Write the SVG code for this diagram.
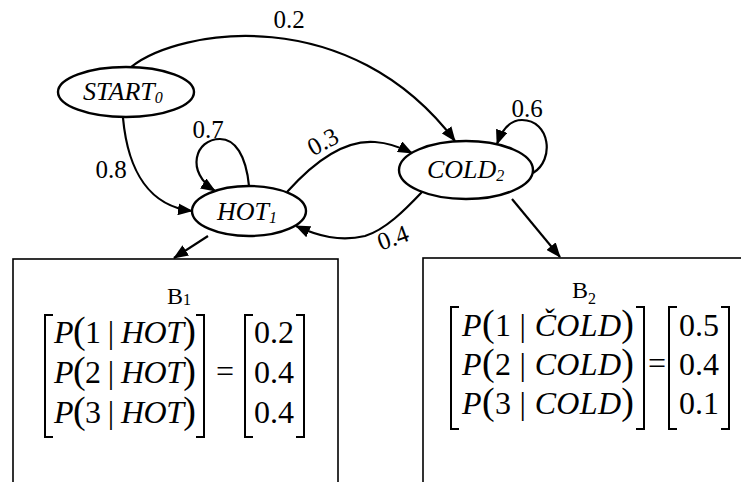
<svg xmlns="http://www.w3.org/2000/svg" width="741" height="482" viewBox="0 0 741 482">
<style>
  .bg { fill: #ffffff; }
  .node { fill: #ffffff; stroke: #000000; stroke-width: 2.4; }
  .box { fill: #ffffff; stroke: #000000; stroke-width: 1.6; }
  .edge { fill: none; stroke: #000000; stroke-width: 2.2; marker-end: url(#arrow); }
  .brk { fill: none; stroke: #000000; stroke-width: 2; }
  text { font-family: 'Liberation Serif', 'DejaVu Serif', serif; fill: #000000; }
  .lbl { font-size: 25px; }
  .name { font-size: 26px; font-style: italic; }
  .sub { font-size: 16px; }
  .mat { font-size: 32px; }
  .it { font-style: italic; }
  .par { font-size: 38px; }
  .bl { font-size: 24px; }
</style>
<defs>
  <marker id="arrow" markerUnits="userSpaceOnUse" markerWidth="16" markerHeight="12" refX="14" refY="6" orient="auto">
    <path d="M0,0 L15,6 L0,12 Z" fill="#000000"/>
  </marker>
</defs>
<rect class="bg" x="0" y="0" width="741" height="482"/>

<g id="connectors">
  <path id="e-start-cold" class="edge" d="M131,67 C180,28 350,2 455,141"/>
  <path id="e-start-hot" class="edge" d="M123,118 C128,172 150,206 192,211"/>
  <path id="e-hot-hot" class="edge" d="M249,186 C246,155 235,139 220,139 C195,139 185,172 215,191"/>
  <path id="e-hot-cold" class="edge" d="M287,192 C320,155 350,140 375,142 C390,143 400,147 412,153"/>
  <path id="e-cold-cold" class="edge" d="M533,173 C555,160 550,120 522,120 C510,120 502,130 497,144"/>
  <path id="e-cold-hot" class="edge" d="M422,192 C405,210 385,230 365,236 C340,242 318,236 296,226"/>
  <path id="e-hot-b1" class="edge" d="M208,236 L174,258"/>
  <path id="e-cold-b2" class="edge" d="M512,199 L560,257"/>
  <text class="lbl" x="289" y="28" text-anchor="middle">0.2</text>
  <text class="lbl" x="111" y="178" text-anchor="middle">0.8</text>
  <text class="lbl" x="208" y="138" text-anchor="middle">0.7</text>
  <text class="lbl" x="323" y="150" text-anchor="middle" transform="rotate(-28 323 142)">0.3</text>
  <text class="lbl" x="527" y="117" text-anchor="middle">0.6</text>
  <text class="lbl" x="393" y="246" text-anchor="middle" transform="rotate(-20 393 238)">0.4</text>
</g>

<g id="node-start">
  <ellipse class="node" cx="126" cy="92" rx="68" ry="25"/>
  <text class="name" x="83" y="100">START<tspan class="sub" dy="3">0</tspan></text>
</g>

<g id="node-hot">
  <ellipse class="node" cx="249" cy="211" rx="57" ry="25"/>
  <text class="name" x="217" y="220">HOT<tspan class="sub" dy="3">1</tspan></text>
</g>

<g id="node-cold">
  <ellipse class="node" cx="466" cy="170" rx="67" ry="29"/>
  <text class="name" x="427" y="178">COLD<tspan class="sub" dy="3">2</tspan></text>
</g>

<g id="node-b1">
  <rect class="box" x="13" y="259" width="325" height="240"/>
  <text class="bl" x="167" y="304">B<tspan font-size="16" dy="1">1</tspan></text>
  <path class="brk" d="M53,315 H45 V437 H53"/>
  <path class="brk" d="M196,315 H204 V437 H196"/>
  <text class="mat" x="54" y="343" textLength="142" lengthAdjust="spacing"><tspan class="it">P</tspan><tspan class="par">(</tspan>1 | <tspan class="it">HOT</tspan><tspan class="par">)</tspan></text>
  <text class="mat" x="54" y="383" textLength="142" lengthAdjust="spacing"><tspan class="it">P</tspan><tspan class="par">(</tspan>2 | <tspan class="it">HOT</tspan><tspan class="par">)</tspan></text>
  <text class="mat" x="54" y="423" textLength="142" lengthAdjust="spacing"><tspan class="it">P</tspan><tspan class="par">(</tspan>3 | <tspan class="it">HOT</tspan><tspan class="par">)</tspan></text>
  <text class="mat" x="225" y="382" text-anchor="middle">=</text>
  <path class="brk" d="M253,315 H245 V437 H253"/>
  <path class="brk" d="M296,315 H304 V437 H296"/>
  <text class="mat" x="274" y="343" text-anchor="middle">0.2</text>
  <text class="mat" x="274" y="383" text-anchor="middle">0.4</text>
  <text class="mat" x="274" y="423" text-anchor="middle">0.4</text>
</g>

<g id="node-b2">
  <rect class="box" x="423" y="258" width="330" height="240"/>
  <text class="bl" x="572" y="298">B<tspan font-size="16" dy="6">2</tspan></text>
  <path class="brk" d="M459,307 H451 V429 H459"/>
  <path class="brk" d="M636,307 H644 V429 H636"/>
  <text class="mat" x="462" y="336" textLength="172" lengthAdjust="spacing"><tspan class="it">P</tspan><tspan class="par">(</tspan>1 | <tspan class="it">ČOLD</tspan><tspan class="par">)</tspan></text>
  <text class="mat" x="462" y="375" textLength="172" lengthAdjust="spacing"><tspan class="it">P</tspan><tspan class="par">(</tspan>2 | <tspan class="it">COLD</tspan><tspan class="par">)</tspan></text>
  <text class="mat" x="462" y="414" textLength="172" lengthAdjust="spacing"><tspan class="it">P</tspan><tspan class="par">(</tspan>3 | <tspan class="it">COLD</tspan><tspan class="par">)</tspan></text>
  <text class="mat" x="657" y="374" text-anchor="middle">=</text>
  <path class="brk" d="M677,307 H669 V429 H677"/>
  <path class="brk" d="M721,307 H729 V429 H721"/>
  <text class="mat" x="699" y="336" text-anchor="middle">0.5</text>
  <text class="mat" x="699" y="375" text-anchor="middle">0.4</text>
  <text class="mat" x="699" y="414" text-anchor="middle">0.1</text>
</g>
</svg>
